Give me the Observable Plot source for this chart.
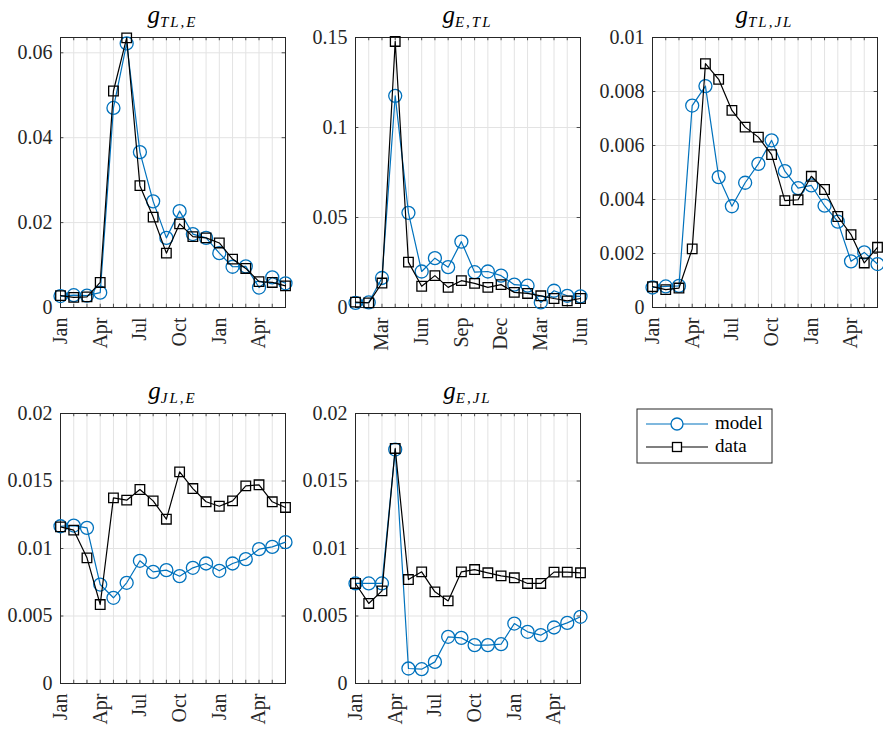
<!DOCTYPE html>
<html><head><meta charset="utf-8">
<script src="https://cdn.jsdelivr.net/npm/d3@7"></script>
<script src="https://cdn.jsdelivr.net/npm/@observablehq/plot@0.6"></script>
<style>
body{margin:0;background:#fff;}
#wrap{position:relative;width:883px;height:730px;overflow:hidden;}
.panel{position:absolute;}
#overlay{position:absolute;left:0;top:0;pointer-events:none;}
</style></head><body><div id="wrap"></div>
<script>
const months = ["Jan","Feb","Mar","Apr","May","Jun","Jul","Aug","Sep","Oct","Nov","Dec","Jan","Feb","Mar","Apr","May","Jun"];

const modelTLE = [0.0027,0.0029,0.0028,0.0035,0.047,0.0622,0.0366,0.025,0.0164,0.0227,0.0173,0.0164,0.0128,0.0096,0.0097,0.0047,0.0071,0.0057];
const dataTLE  = [0.0028,0.0024,0.0025,0.0059,0.051,0.0635,0.0287,0.0213,0.0128,0.0197,0.0167,0.0164,0.0152,0.0114,0.0092,0.0061,0.0059,0.0051];

const modelETL = [0.0026,0.0028,0.0164,0.1176,0.0526,0.020,0.0274,0.0224,0.0366,0.0196,0.020,0.0177,0.0127,0.0121,0.0028,0.0093,0.0065,0.0062];
const dataETL  = [0.0030,0.0026,0.0136,0.1478,0.0252,0.0118,0.0177,0.0112,0.0149,0.0134,0.0112,0.0127,0.0084,0.0078,0.0065,0.0050,0.0037,0.0050];

const modelTLJL = [0.00074,0.00078,0.0008,0.00748,0.0082,0.00483,0.00375,0.00462,0.00532,0.00619,0.00505,0.00442,0.00452,0.00377,0.00318,0.00171,0.00204,0.00161];
const dataTLJL  = [0.00077,0.00066,0.00072,0.00217,0.00903,0.00845,0.0073,0.00668,0.00631,0.00566,0.00396,0.00399,0.00486,0.00437,0.00337,0.0027,0.00165,0.00223];

const modelJLE = [0.01165,0.0117,0.01153,0.00733,0.00635,0.00746,0.00909,0.00827,0.0084,0.00795,0.00857,0.00889,0.00835,0.00889,0.00921,0.00995,0.01012,0.01047];
const dataJLE  = [0.0116,0.01136,0.00931,0.00585,0.01375,0.01358,0.01437,0.01353,0.01217,0.01568,0.01444,0.01346,0.01313,0.01353,0.01464,0.01472,0.01346,0.01304];

const modelEJL = [0.00741,0.00741,0.00741,0.01733,0.00111,0.00106,0.0016,0.00346,0.00338,0.00284,0.00284,0.00291,0.00444,0.00383,0.00358,0.00415,0.00449,0.00494];
const dataEJL  = [0.00741,0.00593,0.00686,0.01741,0.0077,0.00827,0.00679,0.00612,0.00827,0.00844,0.0082,0.00797,0.00783,0.00741,0.00741,0.00825,0.00825,0.0082];

const ticksTLE  = [0, 0.02, 0.04, 0.06];
const ticksETL  = [0, 0.05, 0.1, 0.15];
const ticksTLJL = [0, 0.002, 0.004, 0.006, 0.008, 0.01];
const ticksJL   = [0, 0.005, 0.01, 0.015, 0.02];
const xTicksA = [0, 3, 6, 9, 12, 15];
const xTicksB = [2, 5, 8, 11, 14, 17];

const titles = [["g","TL,E"],["g","E,TL"],["g","TL,JL"],["g","JL,E"],["g","E,JL"]];

const BLUE = "#0072BD";
const FONT = "'Liberation Serif', serif";

const panels = [
  {model:modelTLE, data:dataTLE, yMax:0.0636, yTicks:ticksTLE, xTicks:xTicksA, left:0, top:0, title:titles[0]},
  {model:modelETL, data:dataETL, yMax:0.15, yTicks:ticksETL, xTicks:xTicksB, left:295, top:0, title:titles[1]},
  {model:modelTLJL, data:dataTLJL, yMax:0.01, yTicks:ticksTLJL, xTicks:xTicksA, left:592, top:0, title:titles[2]},
  {model:modelJLE, data:dataJLE, yMax:0.02, yTicks:ticksJL, xTicks:xTicksA, left:0, top:376, title:titles[3]},
  {model:modelEJL, data:dataEJL, yMax:0.02, yTicks:ticksJL, xTicks:xTicksA, left:295, top:376, title:titles[4]},
];

const wrap = document.getElementById("wrap");
const ML = 60, MT = 37, AW = 225, AH = 270, MR = 6;

panels.forEach(p => {
  const rows = months.map((m, i) => ({i, model: p.model[i], data: p.data[i]}));
  const idx = d3.range(months.length);
  const tl = p.yMax * 0.012, tlx = 17 * 0.015;
  const chart = Plot.plot({
    width: ML + AW + MR, height: MT + AH + 50,
    marginLeft: ML, marginRight: MR, marginTop: MT, marginBottom: 50,
    style: {background: "transparent", overflow: "visible", color: "#262626"},
    x: {domain: [0, 17]},
    y: {domain: [0, p.yMax]},
    marks: [
      Plot.ruleX(idx, {stroke: "#e3e3e3", strokeWidth: 1}),
      Plot.ruleY(p.yTicks, {stroke: "#e3e3e3", strokeWidth: 1}),
      Plot.ruleX(idx, {y1: 0, y2: tl, stroke: "#262626", strokeWidth: 0.8}),
      Plot.ruleX(idx, {y1: p.yMax - tl, y2: p.yMax, stroke: "#262626", strokeWidth: 0.8}),
      Plot.ruleY(p.yTicks, {x1: 0, x2: tlx, stroke: "#262626", strokeWidth: 0.8}),
      Plot.ruleY(p.yTicks, {x1: 17 - tlx, x2: 17, stroke: "#262626", strokeWidth: 0.8}),
      Plot.frame({stroke: "#262626", strokeWidth: 1}),
      Plot.axisX({ticks: p.xTicks, tickFormat: i => months[i], tickRotate: -90, tickSize: 0, tickPadding: 10, label: null, fontSize: 20}),
      Plot.axisY({ticks: p.yTicks, tickFormat: v => String(v), tickSize: 0, tickPadding: 8, label: null, fontSize: 20}),
      Plot.line(rows, {x: "i", y: "model", stroke: BLUE, strokeWidth: 1.2}),
      Plot.dot(rows, {x: "i", y: "model", stroke: BLUE, r: 6.5, strokeWidth: 1.3, fill: "none"}),
      Plot.line(rows, {x: "i", y: "data", stroke: "#000", strokeWidth: 1.2}),
      Plot.dot(rows, {x: "i", y: "data", symbol: "square", stroke: "#000", r: 5.4, strokeWidth: 1.3, fill: "none"})
    ]
  });
  chart.classList.add("panel");
  chart.style.left = p.left + "px";
  chart.style.top = p.top + "px";
  d3.select(chart).selectAll("g[aria-label$='tick label'], g[aria-label$='tick label'] text")
    .style("font-family", FONT, "important").style("font-size", "20px").attr("fill", "#262626");
  d3.select(chart).selectAll("text").style("font-family", FONT, "important");
  wrap.appendChild(chart);
});

// overlay: titles and legend
const svg = d3.select(wrap).append("svg").attr("id", "overlay").attr("width", 883).attr("height", 730)
  .style("font-family", FONT);
panels.forEach(p => {
  const cx = p.left + ML + AW / 2;
  const t = svg.append("text").attr("x", cx).attr("y", p.top + 23).attr("text-anchor", "middle")
    .attr("font-style", "italic").attr("fill", "#000");
  t.append("tspan").attr("font-size", 25).text(p.title[0]);
  t.append("tspan").attr("font-size", 15).attr("dy", 4).attr("letter-spacing", 2).text(p.title[1]);
});

const lg = svg.append("g").attr("transform", "translate(637,409)");
lg.append("rect").attr("width", 135).attr("height", 54).attr("fill", "#fff").attr("stroke", "#262626").attr("stroke-width", 1);
const items = [["model", BLUE, "circle"], ["data", "#000", "square"]];
items.forEach((it, k) => {
  const y = 15 + k * 23;
  lg.append("line").attr("x1", 9).attr("x2", 71).attr("y1", y).attr("y2", y).attr("stroke", it[1]).attr("stroke-width", 1.2);
  if (it[2] === "circle") lg.append("circle").attr("cx", 40).attr("cy", y).attr("r", 6).attr("fill", "#fff").attr("stroke", it[1]).attr("stroke-width", 1.3);
  else lg.append("rect").attr("x", 35.5).attr("y", y - 4.5).attr("width", 9).attr("height", 9).attr("fill", "#fff").attr("stroke", it[1]).attr("stroke-width", 1.3);
  lg.append("text").attr("x", 78).attr("y", y + 5).attr("font-size", 19).attr("fill", "#000").text(it[0]);
});
</script></body></html>
